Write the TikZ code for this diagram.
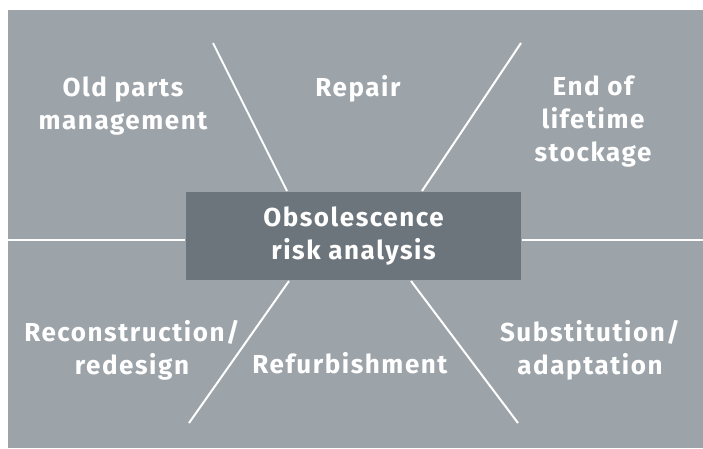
\documentclass[tikz,border=0pt]{standalone}
\usepackage{fontspec}
\setmainfont{Fira Sans}[LetterSpace=6]
\usepackage{tikz}
\usetikzlibrary{calc,positioning}
\definecolor{panelgray}{HTML}{9CA3A9}
\definecolor{boxgray}{HTML}{6D757C}

\begin{document}
\begin{tikzpicture}[x=1pt,y=-1pt,line width=2pt]
\tikzstyle{every node}=[text=white,font=\fontsize{26}{33}\selectfont\bfseries,inner sep=0pt]
\tikzstyle{label}=[align=center]
\tikzstyle{split}=[draw=white,line width=2pt]
\useasboundingbox (0,0) rectangle (703,448);
\fill[panelgray] (8,10) rectangle (703,448);
\node[fill=boxgray,minimum width=335pt,minimum height=88pt,label] at (353.5,236) (box){Obsolescence\\risk analysis};
\node[label] at (123,106) (old){Old parts\\management};
\node[label] at (358,89) (repair){Repair};
\node[label] at (593,122) (end){End of\\lifetime\\stockage};
\node[label] at (132,350) (recon){Reconstruction/\\redesign};
\node[label] at (350,363) (refurb){Refurbishment};
\node[label] at (590,350) (subst){Substitution/\\adaptation};
\coordinate (left) at (8,240);
\coordinate (right) at (703,240);
\coordinate (tl) at (213,43);
\coordinate (tr) at (521,43);
\coordinate (bl) at (189,423);
\coordinate (br) at (518,423);
 %draw
 \draw[split,line width=2.6pt] (left) -- (left -| box.west);
 \draw[split,line width=2.6pt] (right) -- (right -| box.east);
 \draw[split] (tl) -- ($(box.north west)+(102,0)$);
 \draw[split] (tr) -- ($(box.north west)+(237,0)$);
 \draw[split] (bl) -- ($(box.south west)+(104,0)$);
 \draw[split] (br) -- ($(box.south west)+(226,0)$);
\end{tikzpicture}
\end{document}
